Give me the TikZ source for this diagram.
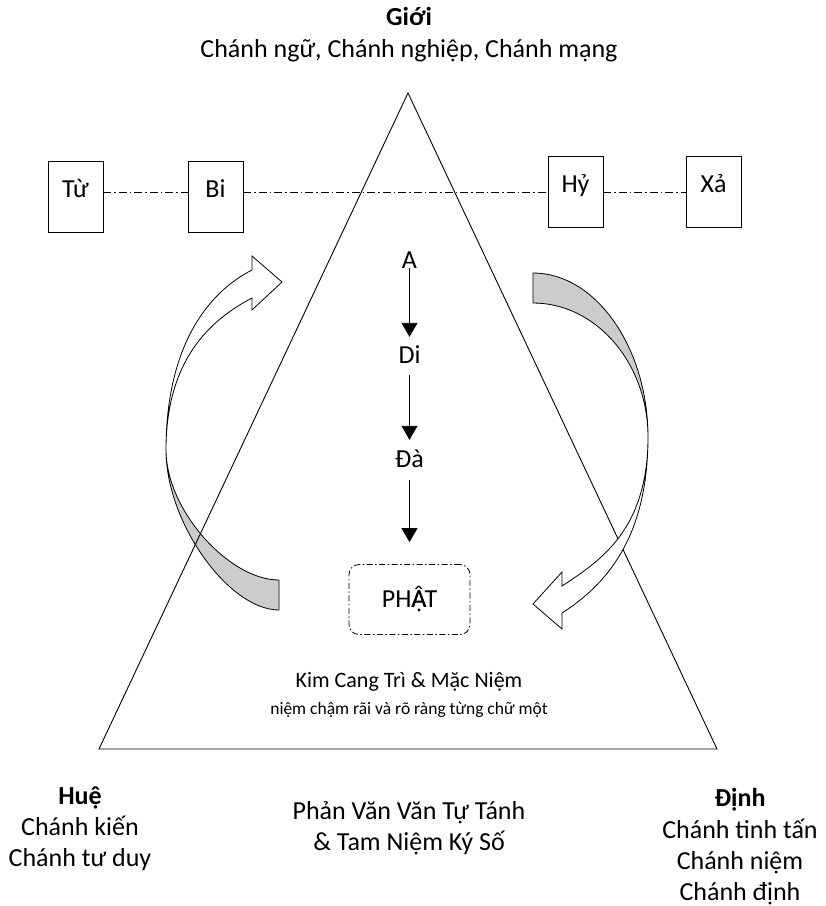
\documentclass[tikz,border=0pt]{standalone}
\usepackage{fontspec}
\setmainfont{Carlito}
\usetikzlibrary{arrows.meta}
\newcommand\fsmain{\fontsize{26}{31}\selectfont}
\newcommand\fsmid{\fontsize{22}{27}\selectfont}
\newcommand\fssmall{\fontsize{17.5}{21}\selectfont}
\begin{document}
\begin{tikzpicture}[x=1pt,y=-1pt,
  ln/.style={line width=0.9pt},
  sqbox/.style={draw, line width=0.9pt, minimum width=55pt, minimum height=71pt, inner sep=0pt, text height=10pt, text depth=8pt, font=\fsmain},
  txt/.style={font=\fsmain, inner sep=0pt, anchor=base},
  midtxt/.style={font=\fsmid, inner sep=0pt, anchor=base},
  smalltxt/.style={font=\fssmall, inner sep=0pt, anchor=base},
  lettr/.style={font=\fsmain, inner sep=0pt, text height=17pt, text depth=0pt},
  dd/.style={dash pattern=on 8pt off 3pt on 1.5pt off 3pt},
  ddbox/.style={dash pattern=on 6pt off 2.5pt on 1.5pt off 2.5pt},
  downarrow/.style={line width=0.9pt, -{Triangle[length=14pt,width=16pt]}},
  back/.style={draw, line width=0.8pt, fill=black!20, line join=round},
  front/.style={draw, line width=0.8pt, fill=white, line join=miter},
]
\useasboundingbox (0,0) rectangle (826,906);

% back (gray) parts of the curved arrows
\path[back] (166,450) .. controls (166,523) and (229,610) .. (279,610) -- (279,580) .. controls (229,580) and (166,510) .. (166,450) -- cycle;
\path[back] (533,273) .. controls (596,273) and (648,348) .. (648,437) .. controls (648,363) and (596,303) .. (533,303) -- cycle;

% triangle
\coordinate (apex) at (408,93);
\coordinate (bl) at (99,749);
\coordinate (br) at (717,749);
\draw[ln] (apex) -- (bl) -- (br) -- cycle;

% front (white) parts of the curved arrows
\path[front] (166,450) .. controls (166,347) and (207,293) .. (252,270) -- (252,256) -- (282,282) -- (252,310) -- (252,298) .. controls (210,320) and (166,360) .. (166,450) -- cycle;
\path[front] (648,437) .. controls (648,540) and (604,586) .. (562,613) -- (562,629) -- (533,604) -- (562,572) -- (562,586) .. controls (600,561) and (648,530) .. (648,437) -- cycle;

% boxes
\node[sqbox] (tu) at (75.5,196.5) {Từ};
\node[sqbox] (bi) at (215.5,196.5) {Bi};
\node[sqbox] (hy) at (575.5,191.5) {Hỷ};
\node[sqbox] (xa) at (713.5,191.5) {Xả};
\coordinate (ly) at (0,192);
\draw[ln,dd] (tu.east |- ly) -- (bi.west |- ly);
\draw[ln,dd] (bi.east |- ly) -- (hy.west |- ly);
\draw[ln,dd] (hy.east |- ly) -- (xa.west |- ly);

% A Di Da Phat
\node[lettr] (a) at (409.5,259.5) {A};
\node[lettr] (di) at (409.5,354.5) {Di};
\node[lettr] (da) at (409.5,458.5) {Đà};
\node[draw, ddbox, line width=0.8pt, rounded corners=10pt, minimum width=121pt, minimum height=70pt, inner sep=0pt, font=\fsmain] (phat) at (409.5,599.5) {PH\makebox[0pt][l]{Â}Ạ{}T};
\draw[downarrow, shorten >=9pt] (a) -- (di);
\draw[downarrow, shorten <=12pt, shorten >=10pt] (di) -- (da);
\draw[downarrow, shorten <=13pt, shorten >=22pt] (da) -- (phat);

% texts
\node[txt, font=\fsmain\bfseries] (gioi) at (409,25) {Giới};
\node[txt] (gioi2) at (409,57) {Chánh ngữ, Chánh nghiệp, Chánh mạng};
\node[midtxt] (kim) at (409,687) {Kim Cang Trì \& Mặc Niệm};
\node[smalltxt] (kim2) at (409,714) {niệm chậm rãi và rõ ràng từng chữ một};
\node[txt, font=\fsmain\bfseries] (hue) at (80,804) {Huệ};
\node[txt] (hue2) at (80,835) {Chánh kiến};
\node[txt] (hue3) at (80,866) {Chánh tư duy};
\node[txt] (phan) at (409,819) {Phản Văn Văn Tự Tánh};
\node[txt] (phan2) at (409,850) {\& Tam Niệm Ký Số};
\node[txt, font=\fsmain\bfseries] (dinh) at (740,806) {Định};
\node[txt] (dinh2) at (740,838) {Chánh tinh tấn};
\node[txt] (dinh3) at (740,869) {Chánh niệm};
\node[txt] (dinh4) at (740,900) {Chánh định};
\end{tikzpicture}
\end{document}
